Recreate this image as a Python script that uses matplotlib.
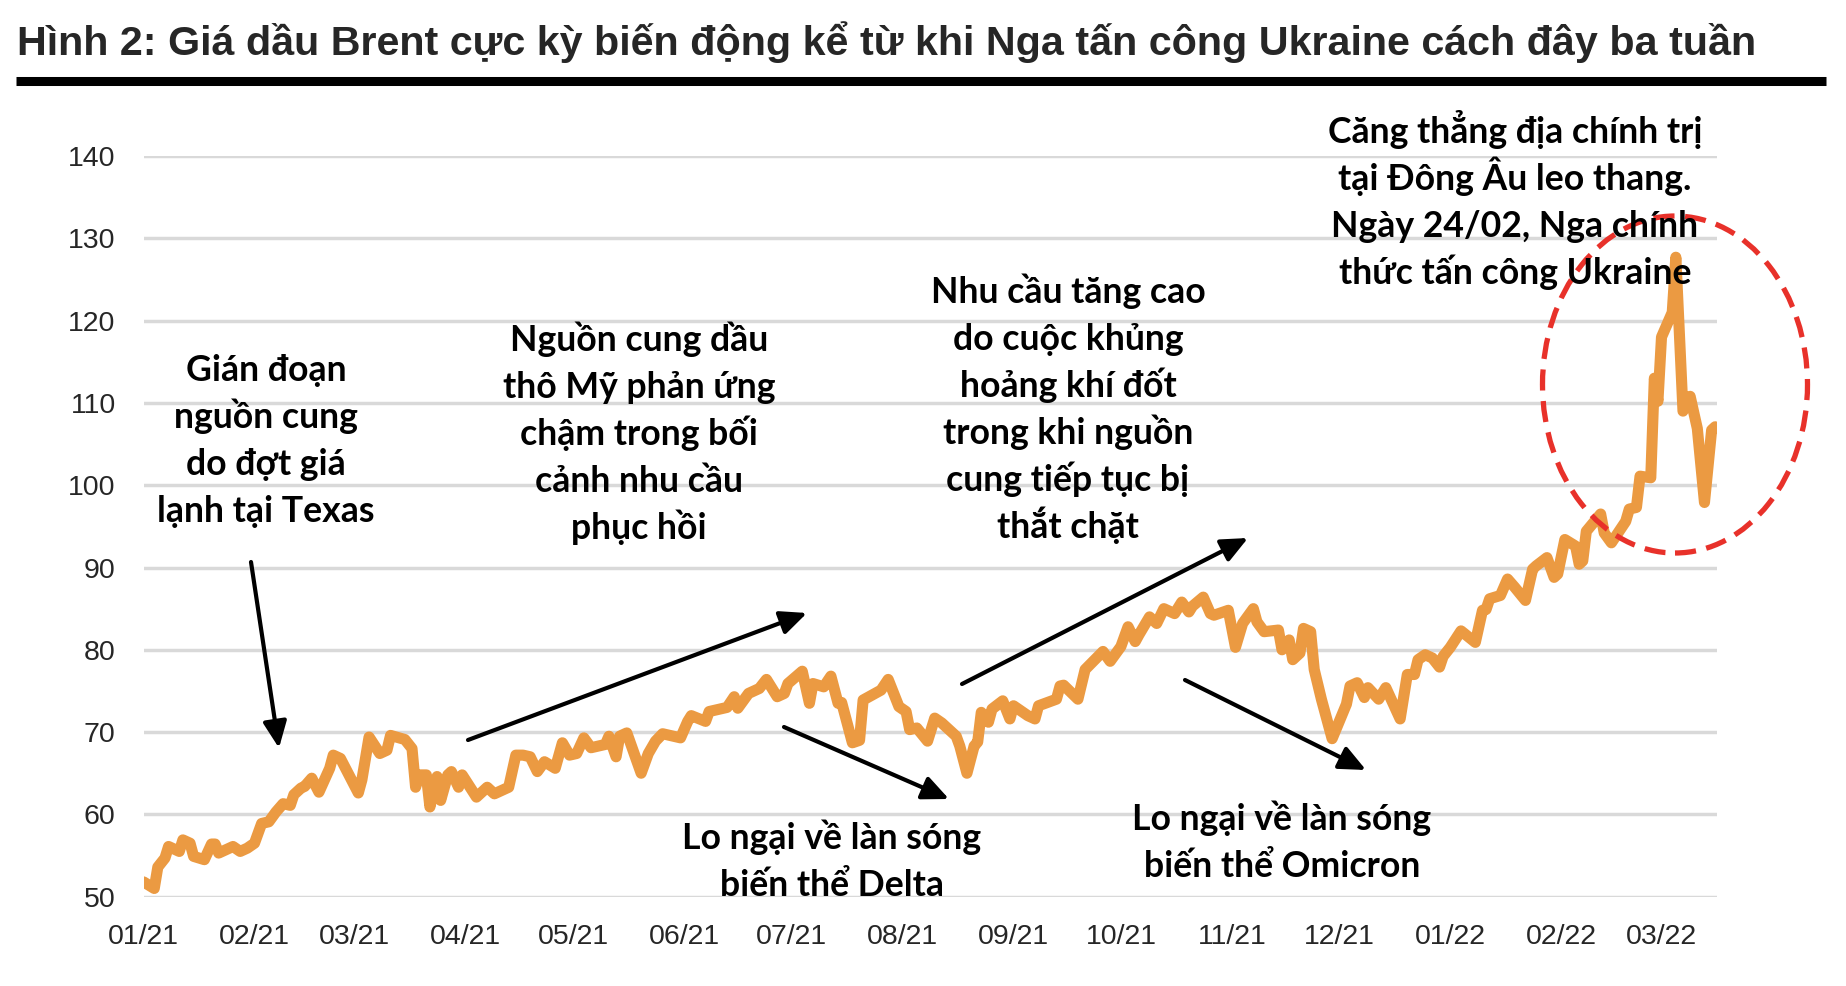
import matplotlib
matplotlib.use("Agg")
import matplotlib.pyplot as plt
from matplotlib.lines import Line2D
from matplotlib.patches import Ellipse
import pandas as pd

W, H = 1846, 986

# Brent price (days counted from 04/01/2021)
start = pd.Timestamp("2021-01-04")
days = [0, 3, 4, 6, 7, 10, 11, 13, 14, 17, 19, 20, 21, 25, 27, 29, 31, 32, 33, 35,
        37, 39, 41, 42, 44, 45, 47, 49, 52, 53, 55, 60, 61, 63, 66, 68, 69, 73, 75, 76,
        77, 79, 80, 82, 83, 85, 86, 88, 89, 93, 96, 98, 102, 104, 106, 108, 110, 112, 115, 117,
        119, 121, 123, 125, 129, 130, 132, 133, 135, 139, 141, 143, 145, 150, 152, 153, 157, 158, 160, 163,
        165, 166, 169, 172, 174, 177, 179, 180, 184, 186, 187, 190, 192, 194, 195, 198, 200, 201, 206, 208,
        211, 213, 214, 216, 219, 221, 223, 227, 228, 230, 232, 233, 234, 236, 237, 240, 242, 243, 247, 249,
        250, 255, 256, 257, 261, 263, 268, 270, 273, 275, 277, 278, 281, 283, 285, 288, 290, 292, 293, 296,
        298, 299, 303, 305, 307, 310, 311, 313, 317, 318, 320, 321, 323, 324, 326, 327, 329, 332, 336, 337,
        339, 341, 342, 345, 347, 351, 353, 355, 356, 358, 360, 362, 363, 365, 368, 372, 374, 375, 376, 379,
        381, 383, 386, 388, 389, 392, 394, 395, 397, 400, 401, 402, 403, 407, 408, 410, 414, 415, 417, 418,
        421, 422, 423, 424, 427, 428, 430, 432, 434, 436, 438, 439]
brent = [51.8, 51.0, 53.6, 54.7, 56.1, 55.5, 56.9, 56.5, 54.9, 54.5, 56.4, 56.4, 55.3, 56.1, 55.5, 55.9, 56.5, 57.7, 58.9, 59.1,
         60.3, 61.3, 61.1, 62.4, 63.2, 63.4, 64.4, 62.7, 65.6, 67.2, 66.8, 62.6, 64.2, 69.4, 67.4, 67.8, 69.6, 69.1, 68.0, 63.3,
         64.8, 64.8, 60.9, 64.6, 61.7, 64.8, 65.2, 63.3, 64.8, 62.1, 63.3, 62.5, 63.3, 67.2, 67.2, 67.0, 65.2, 66.4, 65.6, 68.7,
         67.2, 67.4, 69.3, 68.1, 68.5, 69.5, 67.0, 69.5, 69.9, 65.0, 67.4, 68.9, 69.8, 69.3, 71.3, 72.0, 71.3, 72.5, 72.7, 73.0,
         74.3, 72.9, 74.7, 75.3, 76.4, 74.3, 74.7, 75.9, 77.4, 73.5, 75.9, 75.5, 76.8, 73.5, 73.6, 68.7, 69.0, 73.9, 75.1, 76.4,
         73.1, 72.5, 70.3, 70.5, 68.9, 71.7, 71.1, 69.5, 68.3, 65.0, 68.3, 68.8, 72.4, 71.2, 72.8, 73.8, 71.6, 73.2, 72.0, 71.6,
         73.2, 74.0, 75.6, 75.7, 74.0, 77.6, 79.8, 78.6, 80.4, 82.8, 81.0, 81.8, 84.0, 83.2, 85.0, 84.4, 85.8, 84.6, 85.3, 86.4,
         84.4, 84.2, 84.8, 80.3, 83.2, 85.0, 83.4, 82.2, 82.4, 80.0, 81.2, 78.8, 79.6, 82.6, 82.2, 77.6, 74.0, 69.2, 73.4, 75.6,
         76.0, 74.2, 75.4, 74.0, 75.4, 71.6, 77.0, 77.0, 78.8, 79.4, 79.0, 77.9, 79.2, 80.3, 82.3, 80.9, 84.8, 84.9, 86.2, 86.6,
         88.6, 87.6, 86.0, 89.8, 90.2, 91.2, 88.8, 89.2, 93.4, 92.6, 90.4, 90.8, 94.4, 96.5, 94.2, 93.0, 95.6, 97.1, 97.3, 101.1,
         100.9, 113.0, 110.2, 118.0, 121.0, 127.7, 109.0, 110.8, 106.9, 97.9, 106.7, 107.1]

tick_dates = ["2021-01-04", "2021-02-04", "2021-03-04", "2021-04-04", "2021-05-04",
              "2021-06-04", "2021-07-04", "2021-08-04", "2021-09-04", "2021-10-04",
              "2021-11-04", "2021-12-04", "2022-01-04", "2022-02-04", "2022-03-04"]
tick_labels = ["01/21", "02/21", "03/21", "04/21", "05/21", "06/21", "07/21", "08/21",
               "09/21", "10/21", "11/21", "12/21", "01/22", "02/22", "03/22"]
y_ticks = [50, 60, 70, 80, 90, 100, 110, 120, 130, 140]

title = "Hình 2: Giá dầu Brent cực kỳ biến động kể từ khi Nga tấn công Ukraine cách đây ba tuần"
notes = [
    (266, 381, ["Gián đoạn", "nguồn cung", "do đợt giá", "lạnh tại Texas"]),
    (639, 351, ["Nguồn cung dầu", "thô Mỹ phản ứng", "chậm trong bối", "cảnh nhu cầu", "phục hồi"]),
    (1068, 303, ["Nhu cầu tăng cao", "do cuộc khủng", "hoảng khí đốt", "trong khi nguồn",
                 "cung tiếp tục bị", "thắt chặt"]),
    (1515, 143, ["Căng thẳng địa chính trị", "tại Đông Âu leo thang.", "Ngày 24/02, Nga chính",
                 "thức tấn công Ukraine"]),
    (832, 849, ["Lo ngại về làn sóng", "biến thể Delta"]),
    (1282, 830, ["Lo ngại về làn sóng", "biến thể Omicron"]),
]
arrows = [((251, 562), (279, 748)),
          ((468, 740), (807, 613)),
          ((784, 727), (949, 799)),
          ((962, 684), (1248, 538)),
          ((1185, 680), (1366, 770))]


def fx(px):
    return px / W


def fy(py):
    return 1 - py / H


fig = plt.figure(figsize=(W / 100, H / 100), dpi=100)
ax = fig.add_axes([fx(143.5), fy(896.7), (1717 - 143.5) / W, (896.7 - 156) / H])

dates = [start + pd.Timedelta(days=d) for d in days]
ax.plot(dates, brent, color="#EB9A42", lw=8, solid_joinstyle="round",
        solid_capstyle="round", zorder=3)

ax.set_xlim(start, start + pd.Timedelta(days=439.5))
ax.set_ylim(50, 140)
ax.set_yticks(y_ticks)
ax.set_xticks(pd.to_datetime(tick_dates))
ax.set_xticklabels(tick_labels)
for s in ax.spines.values():
    s.set_visible(False)
ax.yaxis.grid(True, color="#D9D9D9", lw=2.5)
ax.set_axisbelow(True)
ax.tick_params(length=0, labelsize=20.5, labelcolor="#262626")
ax.tick_params(axis="y", pad=20)
ax.tick_params(axis="x", pad=20)
for lab in ax.get_xticklabels() + ax.get_yticklabels():
    lab.set_family("Liberation Sans")

# title and rule
fig.canvas.draw()
r = fig.canvas.get_renderer()
t = fig.text(fx(17), fy(55), title, fontsize=28, fontweight="bold",
             family="Liberation Sans", color="#262626", va="baseline")
tw = t.get_window_extent(r).width
t.set_fontsize(28 * 1738 / tw)
fig.add_artist(Line2D([fx(16), fx(1826)], [fy(81), fy(81)], lw=6.5, color="black",
                      solid_capstyle="butt", transform=fig.transFigure))

# annotation text size fitted to the widest line of the top-right note
ann_font = ["Lato", "Open Sans", "DejaVu Sans"]
probe = fig.text(0, 0, "Căng thẳng địa chính trị", fontsize=24, fontweight="bold", family=ann_font)
ann_size = 24 * 376 / probe.get_window_extent(r).width
probe.remove()

for cx, base, lines in notes:
    for i, line in enumerate(lines):
        fig.text(fx(cx), fy(base + i * 47), line, fontsize=ann_size, fontweight="bold",
                 family=ann_font, ha="center", va="baseline", color="black", zorder=5)

for (x0, y0), (x1, y1) in arrows:
    ax.annotate("", xy=(x1, H - y1), xytext=(x0, H - y0), xycoords="figure pixels",
                textcoords="figure pixels",
                arrowprops=dict(arrowstyle="-|>,head_length=1.0,head_width=0.45",
                                color="black", lw=3, mutation_scale=16,
                                shrinkA=0, shrinkB=0), zorder=4)

fig.add_artist(Ellipse((fx(1675), fy(384.5)), 265 / W, 337 / H, transform=fig.transFigure,
                       fill=False, ec="#E8312A", lw=3.8, ls=(0, (4, 2)), zorder=2))

fig.savefig("out.png", dpi=100, facecolor="white")
